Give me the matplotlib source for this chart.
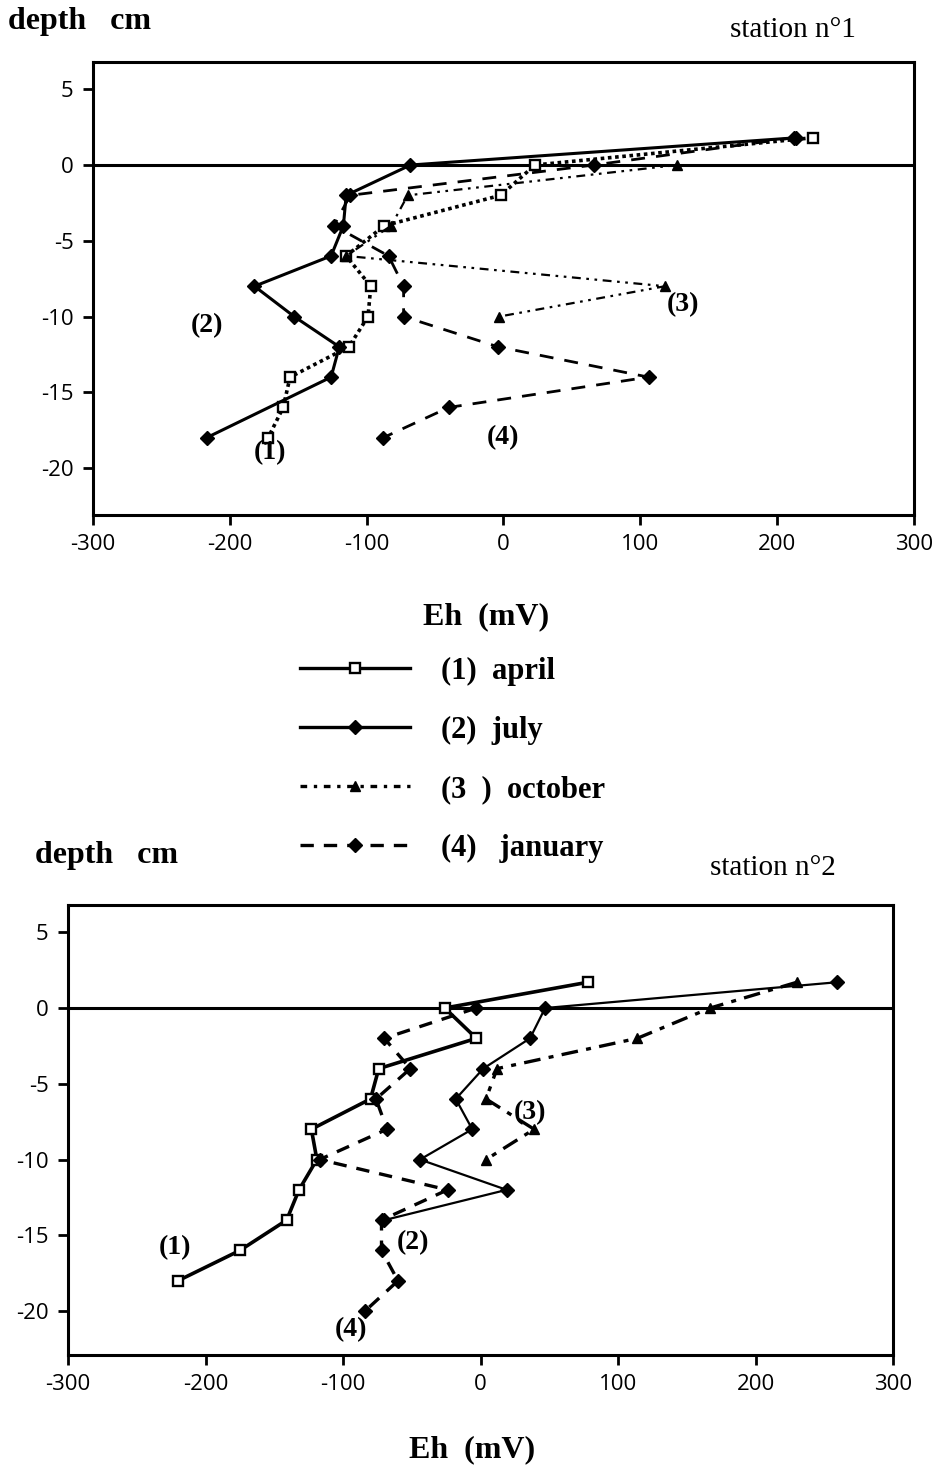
import matplotlib
matplotlib.use("Agg")
import matplotlib.pyplot as plt
from matplotlib.lines import Line2D

# ---------------- data (Eh in mV, depth in cm) ----------------
eh_ticks = [-300, -200, -100, 0, 100, 200, 300]
depth_ticks = [5, 0, -5, -10, -15, -20]

# station 1
s1_april_depth = [1.8, 0, -2, -4, -6, -8, -10, -12, -14, -16, -18]
s1_april_eh = [226, 23, -2, -87, -115, -97, -99, -113, -156, -161, -172]
s1_july_depth = [1.8, 0, -2, -4, -6, -8, -10, -12, -14, -18]
s1_july_eh = [214, -68, -115, -117, -126, -182, -153, -120, -126, -217]
s1_october_depth = [0, -2, -4, -6, -8, -10]
s1_october_eh = [127, -70, -82, -115, 118, -3]
s1_january_depth = [1.8, 0, -2, -4, -6, -8, -10, -12, -14, -16, -18]
s1_january_eh = [212, 66, -112, -124, -84, -73, -73, -4, 106, -40, -88]

# station 2
s2_april_depth = [1.7, 0, -2, -4, -6, -8, -10, -12, -14, -16, -18]
s2_april_eh = [78, -26, -3, -74, -80, -123, -119, -132, -141, -175, -220]
s2_july_depth = [1.7, 0, -2, -4, -6, -8, -10, -12, -14]
s2_july_eh = [259, 47, 36, 2, -18, -6, -44, 19, -70]
s2_october_depth = [1.7, 0, -2, -4, -6, -8, -10]
s2_october_eh = [230, 167, 114, 12, 4, 39, 4]
s2_january_depth = [0, -2, -4, -6, -8, -10, -12, -14, -16, -18, -20]
s2_january_eh = [-3, -70, -51, -76, -68, -117, -24, -72, -72, -60, -84]

legend_labels = ["(1)  april", "(2)  july", "(3  )  october", "(4)   january"]

# ---------------- styling ----------------
SERIF = "Liberation Serif"
SANS = "Open Sans"
W, H = 940, 1471

fig = plt.figure(figsize=(W / 100, H / 100), dpi=100)


def fx(px):
    return px / W


def fy(py):
    return 1 - py / H


def make_axes(left, top, right, bottom, ylim):
    ax = fig.add_axes([fx(left), fy(bottom), fx(right - left), (bottom - top) / H])
    ax.set_xlim(-300, 300)
    ax.set_ylim(*ylim)
    ax.set_xticks(eh_ticks)
    ax.set_yticks(depth_ticks)
    ax.set_xticklabels([str(v) for v in eh_ticks], fontfamily=SANS, fontsize=16)
    ax.set_yticklabels([str(v) for v in depth_ticks], fontfamily=SANS, fontsize=16)
    ax.tick_params(direction="out", length=7, width=2, pad=7, colors="black")
    for sp in ax.spines.values():
        sp.set_linewidth(2.2)
    ax.axhline(0, color="black", lw=2.2, zorder=1)
    return ax


sq = dict(marker="s", ms=6.5, mfc="white", mec="black", mew=1.7)
dia = dict(marker="D", ms=7.5, mfc="black", mec="black")
tri = dict(marker="^", ms=6.5, mfc="black", mec="black")
dashdotdot = (0, (4, 2.5, 1.2, 2.5, 1.2, 2.5))

# ---------- station 1 ----------
ax1 = make_axes(93, 62, 914, 515, (-23.1, 6.8))
ax1.plot(s1_april_eh, s1_april_depth, color="black", lw=2.6, ls=(0, (1, 1)), zorder=3, **sq)
ax1.plot(s1_july_eh, s1_july_depth, color="black", lw=2.2, ls="-", zorder=3, **dia)
ax1.plot(s1_october_eh, s1_october_depth, color="black", lw=1.6, ls=dashdotdot, zorder=3, **tri)
ax1.plot(s1_january_eh, s1_january_depth, color="black", lw=2.0, ls=(0, (5, 4)), zorder=3, **dia)

lab = dict(fontfamily=SERIF, fontweight="bold", fontsize=20, ha="center", va="center")
ax1.text(-217, -10.6, "(2)", **lab)
ax1.text(-171, -19.0, "(1)", **lab)
ax1.text(131, -9.2, "(3)", **lab)
ax1.text(0, -18.0, "(4)", **lab)

# ---------- station 2 ----------
ax2 = make_axes(68, 905, 893, 1355, (-22.9, 6.8))
ax2.plot(s2_april_eh, s2_april_depth, color="black", lw=2.6, ls="-", zorder=3, **sq)
ax2.plot(s2_july_eh, s2_july_depth, color="black", lw=1.6, ls="-", zorder=3, **dia)
ax2.plot(s2_october_eh, s2_october_depth, color="black", lw=2.4, ls=(0, (5, 2.5, 1.5, 2.5)), zorder=3, **tri)
ax2.plot(s2_january_eh, s2_january_depth, color="black", lw=2.4, ls=(0, (4, 3)), zorder=3, **dia)

ax2.text(-222, -15.8, "(1)", **lab)
ax2.text(-49, -15.5, "(2)", **lab)
ax2.text(36, -6.9, "(3)", **lab)
ax2.text(-94, -21.2, "(4)", **lab)

# ---------- texts ----------
big = dict(fontfamily=SERIF, fontweight="bold", fontsize=23)
fig.text(fx(8), fy(22), "depth   cm", ha="left", va="center", **big)
fig.text(fx(35), fy(855), "depth   cm", ha="left", va="center", **big)
fig.text(fx(486), fy(617), "Eh  (mV)", ha="center", va="center", **big)
fig.text(fx(472), fy(1450), "Eh  (mV)", ha="center", va="center", **big)
fig.text(fx(730), fy(30), "station n°1", ha="left", va="center", fontfamily=SERIF, fontsize=21)
fig.text(fx(710), fy(868), "station n°2", ha="left", va="center", fontfamily=SERIF, fontsize=21)

# ---------- legend ----------
handles = [
    Line2D([], [], color="black", lw=2.4, ls="-", **sq),
    Line2D([], [], color="black", lw=2.4, ls="-", **dia),
    Line2D([], [], color="black", lw=2.4, ls=(0, (2, 2, 1, 2)), **tri),
    Line2D([], [], color="black", lw=2.4, ls=(0, (4, 3)), **dia),
]
leg = fig.legend(handles, legend_labels, loc="upper left",
                 bbox_to_anchor=(fx(300), fy(657)), frameon=False,
                 borderpad=0, borderaxespad=0, numpoints=1,
                 handlelength=3.6, handletextpad=1.0, labelspacing=0.98,
                 prop=dict(family=SERIF, weight="bold", size=22))

fig.savefig("out.png", dpi=100)
